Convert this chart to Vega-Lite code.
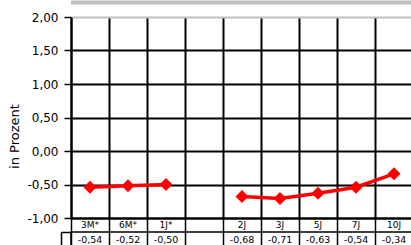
{
  "$schema": "https://vega.github.io/schema/vega-lite/v6.json",
  "padding": {"left": 8, "top": 0, "right": 0, "bottom": 0},
  "background": "white",
  "config": {
    "locale": {"number": {"decimal": ",", "thousands": ".", "grouping": [3], "currency": ["", " €"], "minus": "-"}},
    "font": "DejaVu Sans",
    "view": {"stroke": null},
    "concat": {"spacing": -3},
    "axisY": {
      "titleFontSize": 13,
      "titleFontWeight": "normal",
      "titleColor": "black",
      "titlePadding": 5,
      "labelFontSize": 12,
      "labelColor": "black",
      "labelPadding": 6,
      "gridWidth": 2,
      "gridOpacity": 1,
      "domainColor": "black",
      "domainWidth": 2,
      "tickColor": "black",
      "tickSize": 7,
      "tickWidth": 1.5
    }
  },
  "datasets": {
    "zins": [
      {"laufzeit": "3M*", "wert": -0.54},
      {"laufzeit": "6M*", "wert": -0.52},
      {"laufzeit": "1J*", "wert": -0.50},
      {"laufzeit": " ", "wert": null},
      {"laufzeit": "2J", "wert": -0.68},
      {"laufzeit": "3J", "wert": -0.71},
      {"laufzeit": "5J", "wert": -0.63},
      {"laufzeit": "7J", "wert": -0.54},
      {"laufzeit": "10J", "wert": -0.34}
    ]
  },
  "vconcat": [
    {
      "width": 342,
      "height": 201,
      "layer": [
        {
          "data": {"name": "zins"},
          "mark": {"type": "line", "color": "#ff0000", "strokeWidth": 3.5},
          "encoding": {
            "x": {
              "field": "laufzeit",
              "type": "ordinal",
              "scale": {"type": "band", "domain": ["3M*", "6M*", "1J*", " ", "2J", "3J", "5J", "7J", "10J"], "paddingInner": 0, "paddingOuter": 0},
              "axis": {
                "title": null,
                "bandPosition": 0,
                "grid": true,
                "gridColor": "black",
                "gridWidth": 2,
                "gridOpacity": 1,
                "domain": true,
                "domainColor": "black",
                "domainWidth": 2,
                "ticks": true,
                "tickSize": 13,
                "tickColor": "black",
                "tickWidth": 1.5,
                "labelAngle": 0,
                "labelPadding": -11,
                "labelBaseline": "top",
                "labelFontSize": 9,
                "labelColor": "black"
              }
            },
            "y": {
              "field": "wert",
              "type": "quantitative",
              "scale": {"domain": [-1, 2], "nice": false, "zero": false},
              "axis": {
                "title": "in Prozent",
                "titleY": 119,
                "values": [-1, -0.5, 0, 0.5, 1, 1.5, 2],
                "format": ".2f",
                "grid": true,
                "gridColor": {"condition": {"test": "datum.value == 2", "value": "#c0c0c0"}, "value": "black"}
              }
            }
          }
        },
        {
          "data": {"name": "zins"},
          "transform": [{"filter": "datum.wert != null"}],
          "mark": {"type": "point", "shape": "diamond", "filled": true, "color": "#ff0000", "size": 170, "opacity": 1},
          "encoding": {
            "x": {"field": "laufzeit", "type": "ordinal"},
            "y": {
              "field": "wert",
              "type": "quantitative",
              "axis": {
                "title": "in Prozent",
                "titleY": 119,
                "values": [-1, -0.5, 0, 0.5, 1, 1.5, 2],
                "format": ".2f",
                "grid": true,
                "gridColor": {"condition": {"test": "datum.value == 2", "value": "#c0c0c0"}, "value": "black"}
              }
            }
          }
        },
        {
          "data": {"values": [{}]},
          "mark": {"type": "rule", "color": "#c0c0c0", "strokeWidth": 4, "clip": false},
          "encoding": {
            "y": {
              "datum": 2.2164,
              "type": "quantitative",
              "axis": {
                "title": "in Prozent",
                "titleY": 119,
                "values": [-1, -0.5, 0, 0.5, 1, 1.5, 2],
                "format": ".2f",
                "grid": true,
                "gridColor": {"condition": {"test": "datum.value == 2", "value": "#c0c0c0"}, "value": "black"}
              }
            }
          }
        }
      ]
    },
    {
      "width": 342,
      "height": 15,
      "view": {"stroke": "black", "strokeWidth": 1.5},
      "data": {"name": "zins"},
      "transform": [{"filter": "datum.wert != null"}],
      "mark": {"type": "text", "fontSize": 9.5, "color": "black"},
      "encoding": {
        "x": {
          "field": "laufzeit",
          "type": "ordinal",
          "scale": {"type": "band", "domain": ["3M*", "6M*", "1J*", " ", "2J", "3J", "5J", "7J", "10J"], "paddingInner": 0, "paddingOuter": 0},
          "axis": {
            "title": null,
            "bandPosition": 0,
            "grid": true,
            "gridColor": "black",
            "gridWidth": 1.5,
            "gridOpacity": 1,
            "labels": false,
            "ticks": false,
            "domain": false
          }
        },
        "y": {
          "datum": 0.5,
          "type": "quantitative",
          "scale": {"domain": [0, 1], "nice": false},
          "axis": {
            "title": null,
            "values": [0, 1],
            "labels": false,
            "grid": false,
            "offset": 10,
            "tickSize": -10,
            "tickColor": "black",
            "tickWidth": 1.5,
            "domain": true,
            "domainColor": "black",
            "domainWidth": 1.5
          }
        },
        "text": {"field": "wert", "type": "quantitative", "format": ".2f"}
      }
    }
  ]
}
